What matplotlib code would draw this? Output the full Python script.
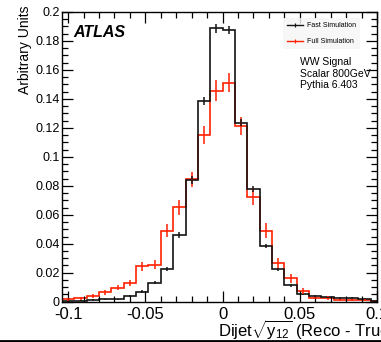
import numpy as np
import matplotlib
matplotlib.use("Agg")
import matplotlib.pyplot as plt
from matplotlib.ticker import MultipleLocator, FixedLocator
from matplotlib.lines import Line2D

plt.rcParams['font.family'] = ['Liberation Sans', 'DejaVu Sans']
plt.rcParams['axes.unicode_minus'] = False
plt.rcParams['mathtext.fontset'] = 'custom'
plt.rcParams['mathtext.rm'] = 'Liberation Sans'
plt.rcParams['mathtext.it'] = 'Liberation Sans'

# histogram binning (bin width 0.008)
bin_edges = [-0.104, -0.096, -0.088, -0.080, -0.072, -0.064, -0.056, -0.048, -0.040,
             -0.032, -0.024, -0.016, -0.008, 0.000, 0.008, 0.016, 0.024, 0.032,
             0.040, 0.048, 0.056, 0.064, 0.072, 0.080, 0.088, 0.096, 0.104]

fast_vals = [0.0004, 0.0006, 0.0012, 0.0017, 0.0017, 0.0039, 0.0069, 0.0131, 0.0224,
             0.0460, 0.0840, 0.1388, 0.1887, 0.1876, 0.1236, 0.0776, 0.0384, 0.0224,
             0.0113, 0.0050, 0.0038, 0.0030, 0.0027, 0.0026, 0.0020, 0.0008]
fast_err = [0.0003, 0.0003, 0.0005, 0.0005, 0.0005, 0.0007, 0.0009, 0.0012, 0.0015,
            0.0020, 0.0025, 0.0027, 0.0030, 0.0030, 0.0026, 0.0022, 0.0015, 0.0012,
            0.0009, 0.0006, 0.0005, 0.0005, 0.0005, 0.0005, 0.0004, 0.0003]

full_vals = [0.0016, 0.0023, 0.0039, 0.0064, 0.0097, 0.0127, 0.0245, 0.0255, 0.0490,
             0.0652, 0.0845, 0.1151, 0.1457, 0.1512, 0.1213, 0.0725, 0.0490, 0.0265,
             0.0161, 0.0076, 0.0028, 0.0027, 0.0013, 0.0011, 0.0010, 0.0008]
full_err = [0.0008, 0.0009, 0.0012, 0.0015, 0.0018, 0.0020, 0.0030, 0.0030, 0.0044,
            0.0052, 0.0052, 0.0062, 0.0071, 0.0066, 0.0061, 0.0058, 0.0050, 0.0038,
            0.0030, 0.0022, 0.0012, 0.0012, 0.0008, 0.0008, 0.0007, 0.0006]

series_labels = ['Fast Simulation', 'Full Simulation']

FAST_C = '#141414'
FULL_C = '#ff2000'

W, H = 381, 342
fig = plt.figure(figsize=(W/100, H/100), dpi=100)
ax = fig.add_axes([62/W, 1-301.7/H, (377-62)/W, (301.7-12)/H])

edges = np.array(bin_edges)
centers = 0.5*(edges[:-1] + edges[1:])

ax.stairs(full_vals, edges, color=FULL_C, lw=1.2)
ax.errorbar(centers, full_vals, yerr=full_err, fmt='none',
            ecolor=FULL_C, elinewidth=1.1)
ax.stairs(fast_vals, edges, color=FAST_C, lw=1.2)
ax.errorbar(centers, fast_vals, yerr=fast_err, fmt='none',
            ecolor=FAST_C, elinewidth=1.1)

ax.set_xlim(-0.104, 0.1)
ax.set_ylim(0, 0.2)

ax.xaxis.set_major_locator(FixedLocator([-0.1, -0.05, 0.0, 0.05, 0.1]))
ax.xaxis.set_minor_locator(MultipleLocator(0.01))
ax.yaxis.set_minor_locator(MultipleLocator(0.005))
ax.set_xticklabels(['-0.1', '-0.05', '0', '0.05', '0.1'])
ax.set_yticks([0, 0.02, 0.04, 0.06, 0.08, 0.1, 0.12, 0.14, 0.16, 0.18, 0.2])
ax.set_yticklabels(['0', '0.02', '0.04', '0.06', '0.08', '0.1', '0.12', '0.14',
                    '0.16', '0.18', '0.2'])

ax.tick_params(axis='both', which='both', direction='in', top=True, right=True,
               width=0.9, color='black')
ax.tick_params(axis='x', which='major', length=8, labelsize=12, pad=3.5)
ax.tick_params(axis='x', which='minor', length=4.5)
ax.tick_params(axis='y', which='major', length=8, labelsize=9, pad=1.5)
ax.tick_params(axis='y', which='minor', length=4)
for s in ax.spines.values():
    s.set_linewidth(1.0)

fig.text(25/W, 1-6/H, 'Arbitrary Units', rotation=90, ha='center', va='top',
         fontsize=10)
fig.text(218/W, 1-337/H, r'Dijet$\sqrt{y_{12}}$ (Reco - True)', ha='left',
         va='baseline', fontsize=12)

ax.text(0.035, 0.955, 'ATLAS', transform=ax.transAxes, fontsize=11.5,
        fontweight='bold', fontstyle='italic', ha='left', va='top')
ax.text(300/W, 1-57/H, 'WW Signal\nScalar 800GeV\nPythia 6.403',
        transform=fig.transFigure, fontsize=7.5, ha='left', va='top',
        linespacing=1.2)

handles = [Line2D([], [], color=FAST_C, lw=1.0, marker='|', markersize=3,
                  markeredgewidth=0.9),
           Line2D([], [], color=FULL_C, lw=1.0, marker='|', markersize=3,
                  markeredgewidth=0.9)]
leg = ax.legend(handles, series_labels,
                loc='upper left', bbox_to_anchor=(283/W, 1-18/H),
                bbox_transform=fig.transFigure, fontsize=5, frameon=True,
                handlelength=2.3, handletextpad=0.5, labelspacing=1.3,
                borderpad=0.6, borderaxespad=0)
leg.get_frame().set_facecolor('#f6f6f6')
leg.get_frame().set_edgecolor('none')
leg.get_frame().set_boxstyle('square', pad=0)

fig.add_artist(Line2D([0, 1], [1-340.5/H, 1-340.5/H], transform=fig.transFigure,
                      color='black', lw=2))

fig.savefig('out.png', dpi=100)
